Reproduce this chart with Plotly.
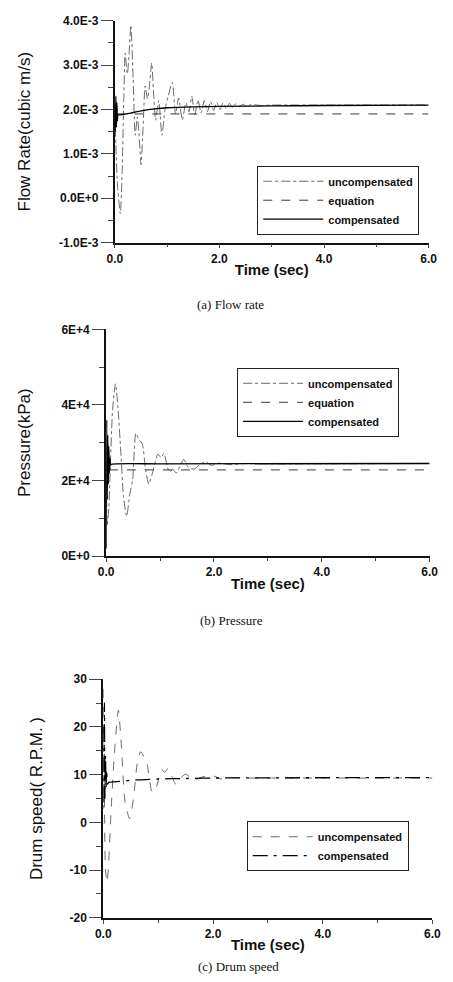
import plotly.graph_objects as go

W, H = 453, 982

# ---------------- data ----------------
# (a) Flow rate, values in 1e-3 m^3/s
FLOW_UNC_T = [0.0, 0.02, 0.05, 0.08, 0.105, 0.14, 0.17, 0.197, 0.22, 0.24, 0.27, 0.307, 0.35, 0.39,
              0.43, 0.46, 0.50, 0.54, 0.58, 0.626, 0.66, 0.705, 0.74, 0.78, 0.84, 0.90, 0.96, 1.02,
              1.10, 1.16, 1.22, 1.29, 1.36, 1.42, 1.47, 1.53, 1.59, 1.65, 1.71, 1.77, 1.83, 1.89,
              1.95, 2.01, 2.07, 2.13, 2.19, 2.25, 2.31, 2.38, 2.45, 2.52, 2.60, 2.80, 3.0, 4.0, 5.0, 6.0]
FLOW_UNC_V = [2.0, 1.2, 0.3, -0.1, -0.35, 0.6, 2.2, 3.27, 3.0, 2.8, 3.2, 3.9, 2.7, 1.42,
              1.83, 1.5, 0.76, 1.6, 2.53, 2.24, 2.5, 3.05, 2.4, 1.76, 2.2, 1.42, 2.0, 2.3,
              2.61, 1.9, 2.26, 1.76, 2.15, 1.95, 2.3, 1.88, 2.22, 1.92, 2.2, 1.95, 2.18, 1.98,
              2.16, 2.0, 2.15, 2.02, 2.14, 2.04, 2.13, 2.06, 2.12, 2.07, 2.11, 2.09, 2.1, 2.1, 2.1, 2.1]
FLOW_EQ_T = [0.03, 6.0]
FLOW_EQ_V = [1.9, 1.9]
FLOW_COMP_T = [0.0, 0.01, 0.02, 0.03, 0.04, 0.05, 0.06, 0.1, 0.3, 0.5, 0.8, 1.0, 1.5, 2.0, 3.0, 4.0, 6.0]
FLOW_COMP_V = [2.0, 1.5, 2.3, 1.6, 2.15, 1.75, 1.88, 1.88, 1.92, 1.97, 2.02, 2.04, 2.06, 2.07, 2.08, 2.09, 2.1]

# (b) Pressure, values in 1e4 kPa
PRES_UNC_T = [0.0, 0.02, 0.05, 0.08, 0.12, 0.173, 0.22, 0.27, 0.32, 0.38, 0.44, 0.49, 0.55, 0.60,
              0.67, 0.73, 0.79, 0.85, 0.96, 1.02, 1.07, 1.17, 1.24, 1.30, 1.44, 1.52, 1.63, 1.72,
              1.84, 1.95, 2.10, 2.30, 2.60, 3.0, 6.0]
PRES_UNC_V = [2.5, 0.8, 1.3, 2.5, 3.9, 4.56, 3.9, 2.8, 1.6, 1.05, 1.66, 2.0, 3.25, 3.1,
              2.97, 2.3, 1.9, 2.15, 2.7, 2.6, 2.72, 2.23, 2.29, 2.2, 2.56, 2.35, 2.3, 2.4,
              2.5, 2.4, 2.46, 2.42, 2.45, 2.44, 2.45]
PRES_EQ_T = [0.05, 6.0]
PRES_EQ_V = [2.28, 2.28]
PRES_COMP_T = [0.0, 0.01, 0.02, 0.03, 0.04, 0.05, 0.06, 0.07, 0.08, 0.1, 1.0, 6.0]
PRES_COMP_V = [0.2, 3.6, 1.5, 3.2, 1.9, 2.9, 2.2, 2.6, 2.4, 2.43, 2.44, 2.45]

# (c) Drum speed, R.P.M.
DRUM_UNC_T = [0.0, 0.02, 0.04, 0.07, 0.10, 0.14, 0.20, 0.275, 0.33, 0.40, 0.48, 0.55, 0.62, 0.68,
              0.74, 0.80, 0.89, 0.97, 1.06, 1.12, 1.18, 1.32, 1.40, 1.50, 1.60, 1.68, 1.80, 1.97,
              2.15, 2.30, 2.60, 3.0, 6.0]
DRUM_UNC_V = [28, 5, -9.9, -12.6, -8, 2, 14, 23.5, 16, 4, 0.8, 5, 12.5, 14.8,
              13.8, 12.2, 6.3, 7.5, 11.1, 10.5, 11.3, 8.0, 9.2, 10.1, 9.3, 8.9, 9.5, 9.9,
              9.1, 9.4, 9.3, 9.3, 9.3]
DRUM_COMP_T = [0.0, 0.01, 0.02, 0.03, 0.04, 0.05, 0.06, 0.08, 0.1, 0.3, 0.6, 1.0, 1.5, 2.0, 6.0]
DRUM_COMP_V = [20, 3, 25, 5, 14, 7, 11, 8, 8.4, 8.6, 8.9, 9.1, 9.2, 9.3, 9.4]

FLOW_TICKS = [-1e-3, 0.0, 1e-3, 2e-3, 3e-3, 4e-3]
FLOW_TICKTEXT = ["-1.0E-3", "0.0E+0", "1.0E-3", "2.0E-3", "3.0E-3", "4.0E-3"]
PRES_TICKS = [0, 2e4, 4e4, 6e4]
PRES_TICKTEXT = ["0E+0", "2E+4", "4E+4", "6E+4"]
DRUM_TICKS = [-20, -10, 0, 10, 20, 30]
TIME_TICKS = [0, 2, 4, 6]
TIME_TICKTEXT = ["0.0", "2.0", "4.0", "6.0"]

# ---------------- figure ----------------
SANS = "Liberation Sans, Arial, sans-serif"
SERIF = "Liberation Serif, Times New Roman, serif"

def px_x(p):
    return p / W

def px_y(p):
    return 1 - p / H

fig = go.Figure()

def add(t, v, scale, name, xa, ya, legend, dash, width, color):
    fig.add_trace(go.Scatter(
        x=t, y=[val * scale for val in v], mode="lines", name=name,
        xaxis=xa, yaxis=ya, legend=legend,
        line=dict(color=color, width=width, dash=dash, shape="spline", smoothing=0.6),
    ))

# panel a
add(FLOW_UNC_T, FLOW_UNC_V, 1e-3, "uncompensated", "x", "y", "legend", "dashdot", 0.8, "#444")
add(FLOW_EQ_T, FLOW_EQ_V, 1e-3, "equation", "x", "y", "legend", "dash", 0.9, "#222")
add(FLOW_COMP_T, FLOW_COMP_V, 1e-3, "compensated", "x", "y", "legend", "solid", 1.3, "#000")
# panel b
add(PRES_UNC_T, PRES_UNC_V, 1e4, "uncompensated", "x2", "y2", "legend2", "dashdot", 0.8, "#444")
add(PRES_EQ_T, PRES_EQ_V, 1e4, "equation", "x2", "y2", "legend2", "dash", 0.9, "#222")
add(PRES_COMP_T, PRES_COMP_V, 1e4, "compensated", "x2", "y2", "legend2", "solid", 1.3, "#000")
# panel c
add(DRUM_UNC_T, DRUM_UNC_V, 1, "uncompensated", "x3", "y3", "legend3", "dash", 0.8, "#444")
add(DRUM_COMP_T, DRUM_COMP_V, 1, "compensated", "x3", "y3", "legend3", "longdashdot", 1.3, "#000")

panels = [
    dict(x0=111, x1=437, y0=14, y1=239),
    dict(x0=102, x1=438, y0=327, y1=557),
    dict(x0=99, x1=441, y0=682, y1=924),
]

tickfont = dict(family=SANS, size=12, color="#111", weight="bold")
titlefont = dict(family=SANS, size=15, color="#111", weight="bold")

yspecs = [
    dict(range=[-1e-3, 4e-3], tickvals=FLOW_TICKS, ticktext=FLOW_TICKTEXT, minor_dtick=0.5e-3,
         title="Flow Rate(cubic m/s)", standoff=24),
    dict(range=[0, 6e4], tickvals=PRES_TICKS, ticktext=PRES_TICKTEXT, minor_dtick=1e4,
         title="Pressure(kPa)", standoff=26),
    dict(range=[-20, 30], tickvals=DRUM_TICKS, ticktext=[str(v) for v in DRUM_TICKS], minor_dtick=5,
         title="Drum speed( R.P.M. )", standoff=23),
]

layout = dict(
    width=W, height=H, margin=dict(l=0, r=0, t=0, b=0),
    paper_bgcolor="white", plot_bgcolor="white",
)

for i, (p, ys) in enumerate(zip(panels, yspecs)):
    sfx = "" if i == 0 else str(i + 1)
    layout["xaxis" + sfx] = dict(
        domain=[px_x(p["x0"]), px_x(p["x1"])], anchor="y" + sfx, range=[0, 6],
        tickvals=TIME_TICKS, ticktext=TIME_TICKTEXT, ticks="outside", ticklen=4, tickwidth=1,
        minor=dict(ticks="outside", dtick=1, ticklen=3, tickwidth=1, tick0=0),
        showline=True, linecolor="#111", linewidth=1.5, showgrid=False, zeroline=False,
        tickfont=tickfont, title=dict(text="Time (sec)", font=titlefont, standoff=0),
    )
    layout["yaxis" + sfx] = dict(
        domain=[px_y(p["y1"]), px_y(p["y0"])], anchor="x" + sfx, range=ys["range"],
        tickvals=ys["tickvals"], ticktext=ys["ticktext"], ticks="outside", ticklen=12, tickwidth=1,
        minor=dict(ticks="outside", dtick=ys["minor_dtick"], ticklen=5, tickwidth=1,
                   tick0=ys["range"][0]),
        showline=True, linecolor="#111", linewidth=2, showgrid=False, zeroline=False,
        tickfont=tickfont,
        title=dict(text=ys["title"], font=dict(family=SANS, size=17, color="#111"),
                   standoff=ys["standoff"]),
    )

legend_pos = [(259, 161), (238, 366), (248, 826)]
for i, (lx, ly) in enumerate(legend_pos):
    key = "legend" if i == 0 else "legend" + str(i + 1)
    layout[key] = dict(
        x=px_x(lx), y=px_y(ly), xanchor="left", yanchor="top",
        bordercolor="#222", borderwidth=1, bgcolor="rgba(255,255,255,0)",
        font=dict(family=SANS, size=11, color="#111", weight="bold"),
        itemwidth=60, tracegroupgap=0,
    )

fig.update_layout(**layout)

captions = [("(a) Flow rate", 231, 302), ("(b) Pressure", 232, 622), ("(c) Drum speed", 239, 973)]
for text, cx, cy in captions:
    fig.add_annotation(text=text, x=px_x(cx), y=px_y(cy), xref="paper", yref="paper",
                       showarrow=False, xanchor="center", yanchor="middle",
                       font=dict(family=SERIF, size=13, color="#111"))

fig.write_html("out.html")
